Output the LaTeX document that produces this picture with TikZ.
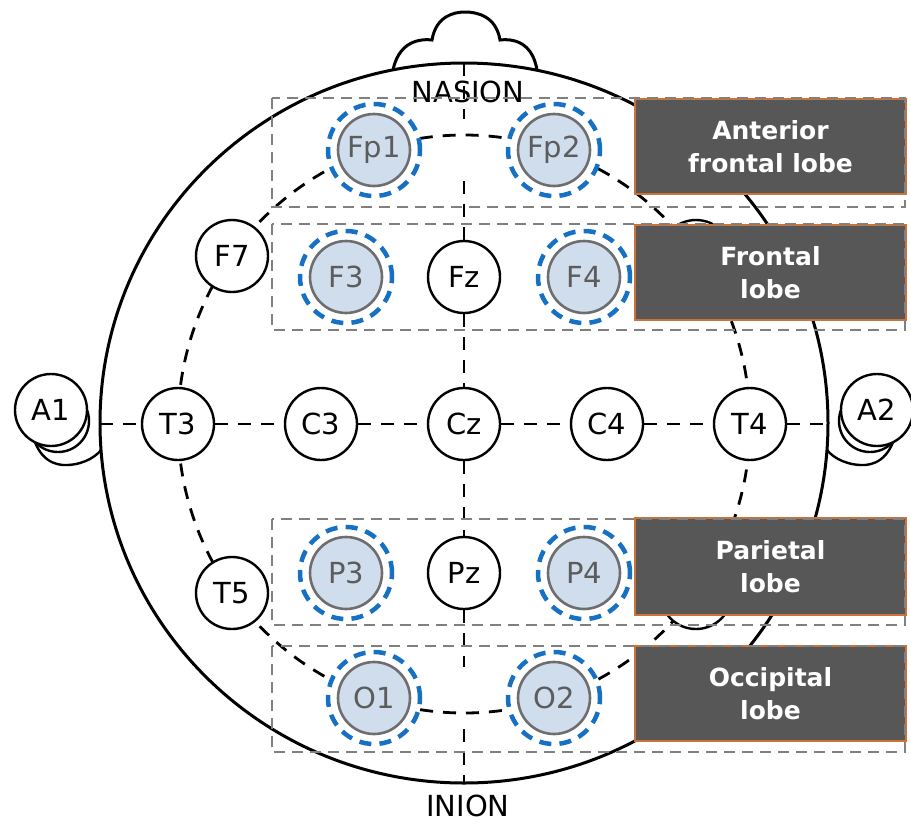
\documentclass[tikz,border=0pt]{standalone}
\usepackage{fontspec}
\setmainfont{DejaVu Sans}
\definecolor{ringblue}{RGB}{22,112,196}
\definecolor{activefill}{RGB}{208,221,237}
\definecolor{activeline}{RGB}{110,110,110}
\definecolor{activetext}{RGB}{92,92,92}
\definecolor{zonegray}{RGB}{128,128,128}
\definecolor{boxfill}{RGB}{87,87,87}
\definecolor{boxedge}{RGB}{205,115,55}
\begin{document}
\begin{tikzpicture}[x=1pt,y=-1pt,
  outline/.style={line width=3pt, black},
  guide/.style={line width=2.8pt, black, dash pattern=on 13pt off 10pt},
  electrode/.style={circle, draw=black, line width=2.4pt, fill=white,
    minimum size=72pt, inner sep=0pt, font=\fontsize{29}{30}\selectfont},
  active/.style={electrode, draw=activeline, line width=2.6pt,
    fill=activefill, text=activetext},
  ring/.style={circle, draw=ringblue, line width=4.5pt, fill=white,
    dash pattern=on 12pt off 8.2pt, minimum size=92pt, inner sep=0pt},
  zone/.style={draw=zonegray, line width=2.2pt, dash pattern=on 11pt off 7pt},
  lobebox/.style={draw=boxedge, line width=1.5pt, fill=boxfill},
  lobetext/.style={text=white, align=center,
    font=\fontsize{25}{33}\selectfont\bfseries},
  landmark/.style={font=\fontsize{29}{30}\selectfont}
]
\useasboundingbox (0,0) rectangle (911,823);

% ears behind the reference electrodes
\draw[line width=2.4pt] (32,432) .. controls (38,460) and (55,466) .. (68,465)
  .. controls (85,464) and (98,456) .. (104,446);
\draw[line width=2.4pt, fill=white] (58,421) circle (31pt);
\draw[line width=2.4pt] (896,432) .. controls (890,460) and (873,466) .. (860,465)
  .. controls (843,464) and (830,456) .. (824,446);
\draw[line width=2.4pt, fill=white] (870,421) circle (31pt);

% head and nose
\draw[outline, fill=white] (464,423) ellipse [x radius=364pt, y radius=360pt];
\draw[outline] (393,70) .. controls (398,46) and (414,38) .. (432,40)
  .. controls (436,16) and (454,12) .. (465,12)
  .. controls (477,12) and (496,16) .. (500,40)
  .. controls (518,38) and (533,46) .. (537,70);

\node[landmark] (nasion) at (468,92) {NASION};
\node[landmark] (inion) at (468,806) {INION};
\coordinate (top) at (464,63);
\coordinate (bottom) at (464,783);
\coordinate (left) at (100,424);
\coordinate (right) at (828,424);

% 10-20 guide circle
\draw[guide] (464,424) ellipse [x radius=286pt, y radius=289pt];

% blue rings of the highlighted sites
\node[ring] (Fp1r) at (374,150) {};
\node[ring] (Fp2r) at (554,150) {};
\node[ring] (F3r) at (346,277) {};
\node[ring] (F4r) at (584,277) {};
\node[ring] (P3r) at (346,573) {};
\node[ring] (P4r) at (584,573) {};
\node[ring] (O1r) at (374,698) {};
\node[ring] (O2r) at (554,698) {};

% electrodes
\node[electrode] (A1) at (51,410) {A1};
\node[electrode] (A2) at (877,410) {A2};
\node[electrode] (F7) at (232,256) {F7};
\node[electrode] (F8) at (696,256) {F8};
\node[electrode] (T3) at (178,424) {T3};
\node[electrode] (C3) at (321,424) {C3};
\node[electrode] (Cz) at (464,424) {Cz};
\node[electrode] (C4) at (607,424) {C4};
\node[electrode] (T4) at (750,424) {T4};
\node[electrode] (T5) at (232,593) {T5};
\node[electrode] (T6) at (696,593) {T6};
\node[electrode] (Fz) at (464,277) {Fz};
\node[electrode] (Pz) at (464,573) {Pz};
\node[active] (Fp1) at (374,150) {Fp1};
\node[active] (Fp2) at (554,150) {Fp2};
\node[active] (F3) at (346,277) {F3};
\node[active] (F4) at (584,277) {F4};
\node[active] (P3) at (346,573) {P3};
\node[active] (P4) at (584,573) {P4};
\node[active] (O1) at (374,698) {O1};
\node[active] (O2) at (554,698) {O2};

% midline and coronal line
\draw[guide] (top) -- (464,119);
\draw[guide] (464,181) -- (Fz);
\draw[guide] (Fz) -- (Cz);
\draw[guide] (Cz) -- (Pz);
\draw[guide] (Pz) -- (464,667);
\draw[guide] (464,729) -- (bottom);
\draw[guide] (left) -- (T3);
\draw[guide] (T3) -- (C3);
\draw[guide] (C3) -- (Cz);
\draw[guide] (Cz) -- (C4);
\draw[guide] (C4) -- (T4);
\draw[guide] (T4) -- (right);

% lobe labels
\node[lobebox, minimum width=271pt, minimum height=95pt] (antbox) at (770.5,146.5) {};
\node[lobetext] (anttext) at (antbox.center) {Anterior\\frontal lobe};
\node[lobebox, minimum width=271pt, minimum height=95pt] (frobox) at (770.5,272.5) {};
\node[lobetext] (frotext) at (frobox.center) {Frontal\\lobe};
\node[lobebox, minimum width=271pt, minimum height=97pt] (parbox) at (770.5,566.5) {};
\node[lobetext] (partext) at (parbox.center) {Parietal\\lobe};
\node[lobebox, minimum width=271pt, minimum height=95pt] (occbox) at (770.5,693.5) {};
\node[lobetext] (occtext) at (occbox.center) {Occipital\\lobe};

% lobe regions
\draw[zone] (272,98) rectangle (905,207);
\draw[zone] (272,224) rectangle (905,330);
\draw[zone] (272,519) rectangle (905,625);
\draw[zone] (272,646) rectangle (905,752);
\end{tikzpicture}
\end{document}
